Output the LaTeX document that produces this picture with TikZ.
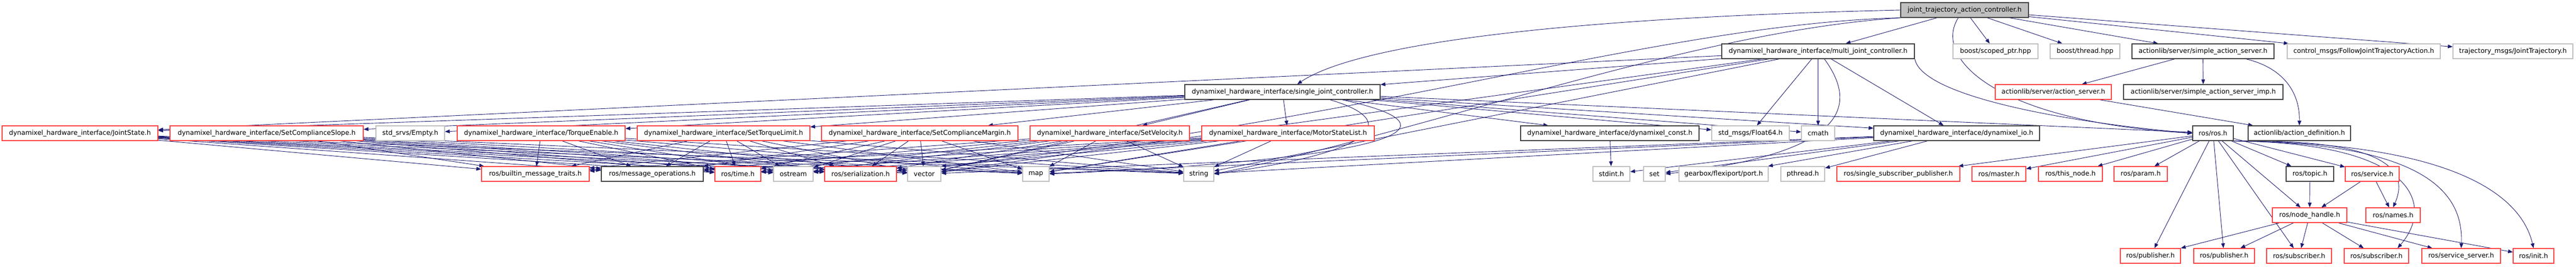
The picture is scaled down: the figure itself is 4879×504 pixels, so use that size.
\documentclass[tikz,border=0pt]{standalone}
\usepackage{fontspec}
\setmainfont{DejaVu Sans}
\usetikzlibrary{arrows.meta}
\pgfdeclarelayer{bg}
\pgfsetlayers{bg,main}
\definecolor{eblue}{HTML}{191970}
\definecolor{nred}{HTML}{FF4040}
\definecolor{ndark}{HTML}{404040}
\definecolor{ngray}{HTML}{BFBFBF}
\newcommand{\mknd}[6]{\node[#5, minimum width={#3-#2}] (#1) at ({(#2+#3)/2},#4) {#6};}
\tikzset{
  basebox/.style={draw, line width=1.4pt, minimum height=28pt, inner sep=0pt, fill=white, font=\fontsize{12.5}{15}\selectfont},
  redb/.style={basebox, draw=nred},
  blkb/.style={basebox, draw=ndark},
  gryb/.style={basebox, draw=ngray},
  topb/.style={basebox, draw=ndark, fill=ngray},
  e/.style={draw=eblue, line width=0.9pt, -{Triangle[length=9pt,width=7pt]}}
}
\begin{document}
\begin{tikzpicture}[x=1pt,y=-1pt]
\useasboundingbox (0,0) rectangle (4879,504);
% row 0
\mknd{jtac}{3600}{3842}{19}{topb}{joint\_trajectory\_action\_controller.h}
% row 1
\mknd{multi}{3261}{3626}{97}{blkb}{dynamixel\_hardware\_interface/multi\_joint\_controller.h}
\mknd{scoped}{3699}{3860}{97}{gryb}{boost/scoped\_ptr.hpp}
\mknd{thread}{3883}{4015}{97}{gryb}{boost/thread.hpp}
\mknd{sas}{4038}{4307}{97}{blkb}{actionlib/server/simple\_action\_server.h}
\mknd{ctrl}{4332}{4622}{97}{gryb}{control\_msgs/FollowJointTrajectoryAction.h}
\mknd{traj}{4646}{4873}{97}{gryb}{trajectory\_msgs/JointTrajectory.h}
% row 2
\mknd{single}{2244}{2614}{174}{blkb}{dynamixel\_hardware\_interface/single\_joint\_controller.h}
\mknd{as}{3779}{3999}{174}{redb}{actionlib/server/action\_server.h}
\mknd{sasimp}{4022}{4324}{174}{blkb}{actionlib/server/simple\_action\_server\_imp.h}
% row 3
\mknd{js}{4}{299}{252}{redb}{dynamixel\_hardware\_interface/JointState.h}
\mknd{scs}{322}{688}{252}{redb}{dynamixel\_hardware\_interface/SetComplianceSlope.h}
\mknd{empty}{712}{842}{252}{gryb}{std\_srvs/Empty.h}
\mknd{te}{866}{1184}{252}{redb}{dynamixel\_hardware\_interface/TorqueEnable.h}
\mknd{stl}{1207}{1534}{252}{redb}{dynamixel\_hardware\_interface/SetTorqueLimit.h}
\mknd{scm}{1556}{1928}{252}{redb}{dynamixel\_hardware\_interface/SetComplianceMargin.h}
\mknd{sv}{1951}{2253}{252}{redb}{dynamixel\_hardware\_interface/SetVelocity.h}
\mknd{msl}{2276}{2603}{252}{redb}{dynamixel\_hardware\_interface/MotorStateList.h}
\mknd{dconst}{2880}{3218}{252}{blkb}{dynamixel\_hardware\_interface/dynamixel\_const.h}
\mknd{f64}{3242}{3389}{252}{gryb}{std\_msgs/Float64.h}
\mknd{cmath}{3412}{3475}{252}{gryb}{cmath}
\mknd{dio}{3549}{3863}{252}{blkb}{dynamixel\_hardware\_interface/dynamixel\_io.h}
\mknd{ros}{4153}{4230}{252}{blkb}{ros/ros.h}
\mknd{adef}{4258}{4452}{252}{blkb}{actionlib/action\_definition.h}
% row 4
\mknd{bmt}{912}{1116}{329}{redb}{ros/builtin\_message\_traits.h}
\mknd{mops}{1139}{1332}{329}{blkb}{ros/message\_operations.h}
\mknd{time}{1354}{1441}{329}{redb}{ros/time.h}
\mknd{ostream}{1465}{1540}{329}{gryb}{ostream}
\mknd{ser}{1562}{1698}{329}{redb}{ros/serialization.h}
\mknd{vector}{1719}{1782}{329}{gryb}{vector}
\mknd{map}{1937}{1987}{329}{gryb}{map}
\mknd{string}{2242}{2299}{329}{gryb}{string}
\mknd{stdint}{3017}{3087}{329}{gryb}{stdint.h}
\mknd{set}{3113}{3154}{329}{gryb}{set}
\mknd{gearbox}{3180}{3349}{329}{gryb}{gearbox/flexiport/port.h}
\mknd{pthread}{3373}{3456}{329}{gryb}{pthread.h}
\mknd{ssp}{3479}{3712}{329}{redb}{ros/single\_subscriber\_publisher.h}
\mknd{master}{3735}{3837}{329}{redb}{ros/master.h}
\mknd{thisnode}{3861}{3982}{329}{redb}{ros/this\_node.h}
\mknd{param}{4004}{4105}{329}{redb}{ros/param.h}
\mknd{topic}{4330}{4420}{329}{blkb}{ros/topic.h}
\mknd{service}{4442}{4544}{329}{redb}{ros/service.h}
% row 5
\mknd{nh}{4304}{4445}{407}{redb}{ros/node\_handle.h}
\mknd{names}{4481}{4584}{407}{redb}{ros/names.h}
% row 6
\mknd{pubA}{4016}{4130}{484}{redb}{ros/publisher.h}
\mknd{pubB}{4155}{4270}{484}{redb}{ros/publisher.h}
\mknd{subA}{4293}{4416}{484}{redb}{ros/subscriber.h}
\mknd{subB}{4440}{4562}{484}{redb}{ros/subscriber.h}
\mknd{ssrv}{4587}{4736}{484}{redb}{ros/service\_server.h}
\mknd{init}{4760}{4837}{484}{redb}{ros/init.h}

\begin{pgfonlayer}{bg}
\foreach \s/\t in {jtac/multi, jtac/scoped, jtac/thread, jtac/sas, jtac/ctrl, jtac/traj,
 multi/js, multi/single, multi/f64, multi/cmath, multi/dio, multi/string, multi/vector, multi/map,
 single/js, single/scs, single/empty, single/te, single/stl, single/scm, single/sv, single/msl,
 single/dconst, single/f64, single/cmath, single/dio, single/ros, single/vector,
 sas/as, sas/sasimp, as/adef,
 dconst/stdint, dio/stdint, dio/set, dio/gearbox, dio/pthread, dio/vector, dio/map, dio/string,
 ros/ssp, ros/master, ros/thisnode, ros/param, ros/topic, ros/service, ros/nh,
 ros/pubA, ros/pubB, ros/subA,
 topic/nh, service/nh, service/names,
 nh/pubA, nh/pubB, nh/subA, nh/subB, nh/ssrv, nh/init}
 {\draw[e] (\s) -- (\t);}
\foreach \s in {js,scs,te,stl,scm,sv,msl}
 {\foreach \t in {bmt,mops,time,ostream,ser,vector,map,string}
   {\draw[e] (\s) -- (\t);}}
% curved connectors
\draw[e] (jtac.west) .. controls (2900,35) and (2560,90) .. ([xshift=28pt]single.north);
\draw[e] ([xshift=-12pt]jtac.south) .. controls (3660,110) and (3780,230) .. (ros.west);
\draw[e] (jtac.south west) .. controls (3200,60) and (2700,250) .. (string.east);
\draw[e] (jtac.south west) .. controls (3150,45) and (2600,230) .. (vector.north east);
\draw[e] (multi.south east) .. controls (3640,180) and (3900,230) .. (ros.west);
\draw[e] ([xshift=12pt]multi.south) .. controls (3520,200) and (3500,290) .. (set.east);
\draw[e] ([xshift=90pt]single.south) .. controls (2660,230) and (2600,290) .. (string.east);
\draw[e] ([xshift=113pt]single.south) .. controls (2780,240) and (2650,300) .. (map.east);
\draw[e] ([xshift=82pt]sas.south) .. controls (4330,130) and (4356,180) .. (adef.north);
\draw[e] (ros.south east) .. controls (4540,262) and (4560,330) .. (names.north);
\draw[e] (ros.south east) .. controls (4580,270) and (4610,390) .. ([xshift=40pt]subB.north);
\draw[e] (ros.south east) .. controls (4620,270) and (4665,380) .. (ssrv.north);
\draw[e] (ros.south east) .. controls (4690,270) and (4780,390) .. (init.north);
\end{pgfonlayer}
\end{tikzpicture}
\end{document}
